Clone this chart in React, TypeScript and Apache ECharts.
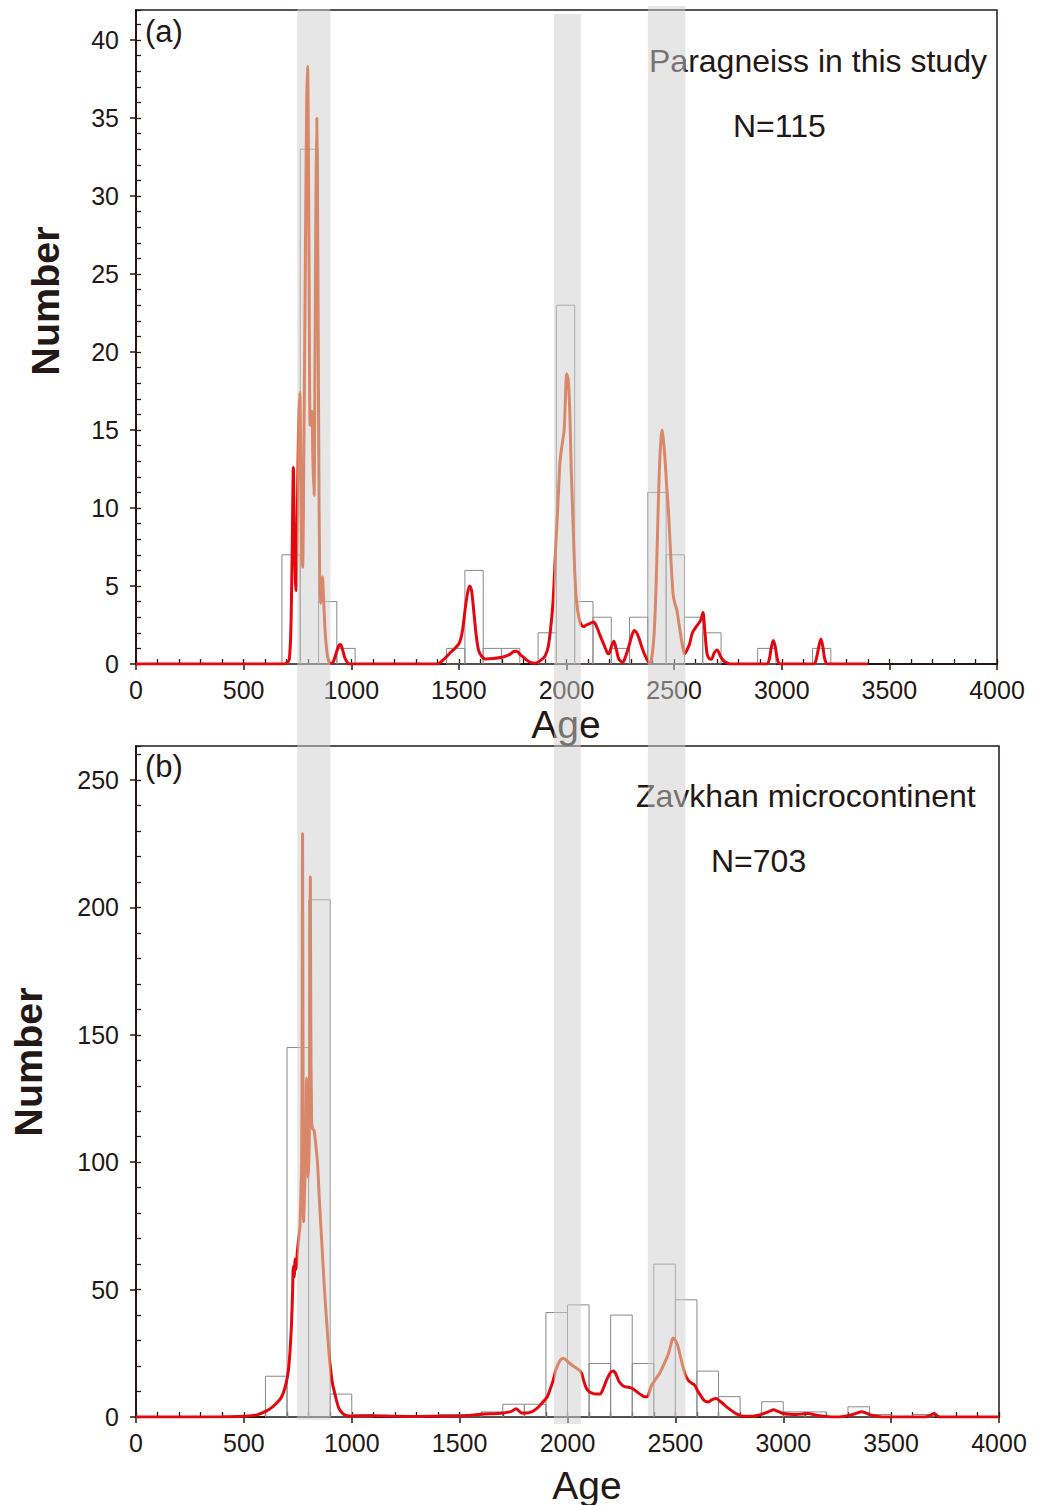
import React, { useEffect, useRef } from 'react';
import * as echarts from 'echarts';

// ---------------- data ----------------
const ageTicks = [0, 500, 1000, 1500, 2000, 2500, 3000, 3500, 4000];

// Panel (a): histogram (bin start ages, width 85 Ma) and counts
const histAStart = [678, 763, 848, 933, 1443, 1528, 1613, 1698, 1868, 1953, 2038, 2123, 2208, 2293, 2378, 2463, 2548, 2633, 2888, 3143];
const histACount = [7, 33, 4, 1, 1, 6, 1, 1, 2, 23, 4, 3, 1, 3, 11, 7, 3, 2, 1, 1];
const histAWidth = 85;

// Panel (b): histogram (bin start ages, width 100 Ma) and counts
const histBStart = [600, 700, 800, 900, 1000, 1400, 1500, 1600, 1700, 1800, 1900, 2000, 2100, 2200, 2300, 2400, 2500, 2600, 2700, 2900, 3000, 3100, 3300, 3400, 3600];
const histBCount = [16, 145, 203, 9, 1, 1, 1, 2, 5, 5, 41, 44, 21, 40, 21, 60, 46, 18, 8, 6, 2, 2, 4, 1, 1];
const histBWidth = 100;

// Probability density curve, panel (a): [age, value]
const curveA: [number, number][] = [
  [0, 0], [690, 0], [712, 0.3], [722, 4], [728, 10], [731, 12.6], [735, 9], [740, 5.5], [743, 4.7], [748, 8],
  [755, 15], [761, 17.4], [766, 12], [770, 7], [774, 6.2], [780, 14], [788, 28], [793, 36], [797, 38.3], [801, 33],
  [805, 22], [809, 15.3], [813, 15.8], [817, 16.2], [822, 13], [827, 10.8], [831, 18], [836, 30], [840, 35], [844, 28],
  [849, 14], [853, 6], [857, 3.9], [862, 5], [866, 5.6], [872, 4], [880, 1.8], [890, 0.5], [900, 0.05], [915, 0.1],
  [930, 0.7], [943, 1.2], [950, 1.25], [958, 1.0], [970, 0.4], [985, 0.05], [1000, 0], [1400, 0], [1430, 0.3], [1462, 0.75],
  [1500, 1.3], [1515, 2], [1530, 3.6], [1541, 4.6], [1551, 5.0], [1560, 4.6], [1569, 3.4], [1580, 1.9], [1592, 0.86], [1608, 0.45],
  [1623, 0.32], [1660, 0.35], [1700, 0.43], [1735, 0.6], [1755, 0.8], [1769, 0.82], [1785, 0.6], [1800, 0.43], [1831, 0.1], [1855, 0.05],
  [1877, 0.2], [1900, 0.5], [1915, 1.1], [1928, 2.5], [1938, 4.1], [1950, 7.5], [1961, 10.5], [1970, 13], [1977, 13.8], [1989, 15],
  [1995, 17], [2001, 18.6], [2008, 18.2], [2015, 16.3], [2022, 12.5], [2031, 8.8], [2038, 6], [2046, 4.1], [2057, 3], [2069, 2.5],
  [2080, 2.4], [2092, 2.5], [2110, 2.6], [2126, 2.7], [2140, 2.4], [2154, 1.9], [2175, 1.2], [2190, 0.7], [2197, 0.65], [2208, 1.1],
  [2220, 1.46], [2232, 0.9], [2243, 0.32], [2261, 0.1], [2275, 0.5], [2289, 1.1], [2303, 1.8], [2315, 2.15], [2326, 2.0], [2338, 1.6],
  [2352, 1.0], [2369, 0.43], [2385, 0.1], [2392, 0.15], [2400, 0.8], [2407, 1.9], [2415, 4.5], [2423, 8.4], [2428, 11], [2434, 13.3],
  [2440, 14.6], [2444, 15.0], [2450, 14.4], [2457, 13.3], [2465, 11.5], [2474, 9.7], [2484, 7], [2495, 4.5], [2503, 3.9], [2512, 3.5],
  [2520, 2.8], [2530, 1.9], [2540, 1.1], [2549, 0.65], [2560, 0.9], [2572, 1.3], [2585, 2], [2603, 2.4], [2623, 2.8], [2634, 3.3],
  [2642, 2.2], [2653, 0.65], [2663, 0.35], [2673, 0.3], [2686, 0.7], [2700, 0.9], [2715, 0.5], [2730, 0.2], [2742, 0.1], [2760, 0],
  [2930, 0], [2942, 0.3], [2952, 1.1], [2961, 1.5], [2970, 1.1], [2980, 0.3], [2992, 0], [3148, 0], [3160, 0.3], [3172, 1.1],
  [3182, 1.6], [3191, 1.1], [3200, 0.3], [3213, 0], [3400, 0]
];

// Probability density curve, panel (b): [age, value]
const curveB: [number, number][] = [
  [0, 0], [400, 0.1], [500, 0.3], [559, 0.8], [605, 2.4], [630, 3.8], [652, 5.5], [670, 7.2], [683, 9.5], [695, 13],
  [706, 18], [714, 26], [721, 37], [726, 50], [729, 59], [733, 55], [738, 62], [742, 58], [748, 65], [754, 70],
  [760, 75], [765, 90], [768, 100], [770, 150], [772, 229], [774, 150], [777, 76.6], [781, 88], [785, 100], [789, 120],
  [791, 133], [793, 125], [795, 100], [797, 94], [800, 98], [803, 108], [806, 160], [808, 212], [810, 160], [814, 116],
  [819, 113], [825, 112.6], [832, 108], [841, 100], [850, 85], [861, 68.7], [872, 52], [884, 37], [892, 28], [899, 21],
  [910, 13.5], [923, 8.7], [940, 3.5], [961, 1.1], [980, 0.5], [1000, 0.3], [1100, 0.5], [1200, 0.3], [1300, 0.2], [1400, 0.3],
  [1502, 0.4], [1602, 1.05], [1702, 1.6], [1740, 2.2], [1761, 3.2], [1775, 2.4], [1787, 1.6], [1810, 1.6], [1833, 2], [1860, 3.5],
  [1880, 5.3], [1906, 7.9], [1920, 11], [1934, 14.5], [1946, 18.5], [1958, 21], [1970, 22.7], [1980, 23.1], [1995, 22.2], [2011, 21],
  [2026, 20], [2042, 19.1], [2055, 18.3], [2065, 17.2], [2076, 14], [2088, 11.2], [2100, 10], [2111, 9.5], [2130, 9.0], [2150, 9.0],
  [2165, 11], [2181, 14.5], [2200, 17.5], [2214, 18.1], [2226, 16.5], [2239, 13.9], [2252, 12.6], [2265, 11.9], [2283, 11.7], [2301, 11.2],
  [2320, 10], [2343, 8.6], [2358, 7.9], [2370, 7.9], [2380, 10], [2389, 12.3], [2408, 14.8], [2427, 17.2], [2446, 20.5], [2466, 24.4],
  [2478, 28], [2489, 31], [2500, 30], [2512, 27.7], [2524, 23.5], [2535, 19.8], [2547, 16.5], [2559, 14.5], [2575, 13.3], [2589, 12.5],
  [2602, 10.5], [2616, 8.6], [2633, 6.5], [2651, 5.9], [2670, 6.8], [2690, 7.3], [2705, 6.3], [2720, 5.3], [2740, 3.8], [2759, 2.6],
  [2780, 1.4], [2805, 0.4], [2830, 0.3], [2859, 0.3], [2890, 0.8], [2921, 1.7], [2940, 2.4], [2955, 2.8], [2975, 2.2], [3000, 1.4],
  [3030, 1.1], [3062, 1.0], [3090, 1.2], [3116, 1.4], [3135, 1.1], [3154, 0.7], [3200, 0.2], [3239, 0], [3280, 0.2], [3309, 0.7],
  [3340, 1.5], [3363, 2.1], [3385, 1.5], [3409, 0.7], [3440, 0.2], [3478, 0], [3640, 0], [3663, 0.1], [3685, 0.8], [3699, 1.4],
  [3712, 0.6], [3725, 0], [4000, 0]
];

// Highlighted age bands (Ma)
const bandAges: [number, number][] = [[749, 903], [1942, 2067], [2378, 2552]];

const titleA = 'Paragneiss in this study';
const nA = 'N=115';
const titleB = 'Zavkhan microcontinent';
const nB = 'N=703';

// ---------------- styling ----------------
const FONT = "'Liberation Sans', Arial, Helvetica, sans-serif";
const INK = '#231815';
const RED = '#e3070f';
const IN_BAND = '#e54105';
const BAND_FILL = 'rgba(205,205,205,0.5)';
const BAND_Y: [number, number][] = [[9, 1420], [14, 1424], [6, 1416]];

function histData(starts: number[], counts: number[], w: number) {
  return starts.map((s, i) => [s, s + w, counts[i]]);
}

function renderBin(params: any, api: any) {
  const p0 = api.coord([api.value(0), api.value(2)]);
  const p1 = api.coord([api.value(1), 0]);
  return {
    type: 'rect',
    shape: { x: p0[0], y: p0[1], width: p1[0] - p0[0], height: p1[1] - p0[1] },
    style: { fill: 'none', stroke: '#8a8a8a', lineWidth: 1 },
  };
}

function xAxes(gridIndex: number) {
  return [
    {
      gridIndex, type: 'value', min: 0, max: 4000, interval: 500, position: 'bottom',
      axisLine: { show: true, onZero: false, lineStyle: { color: INK, width: 2 } },
      axisTick: { show: true, inside: false, length: 6, lineStyle: { color: INK, width: 1.5 } },
      axisLabel: { show: true, fontSize: 25, color: INK, fontFamily: FONT, margin: 13,
        formatter: (v: number) => (ageTicks.includes(v) ? String(v) : '') },
      splitLine: { show: false },
    },
    {
      gridIndex, type: 'value', min: 0, max: 4000, interval: 100, position: 'bottom',
      axisLine: { show: false, onZero: false },
      axisTick: { show: true, inside: true, length: 5, lineStyle: { color: INK, width: 1.3 } },
      axisLabel: { show: false },
      splitLine: { show: false },
    },
  ];
}

function yAxes(gridIndex: number, max: number, major: number, minor: number) {
  return [
    {
      gridIndex, type: 'value', min: 0, max, interval: major, position: 'left',
      axisLine: { show: true, onZero: false, lineStyle: { color: INK, width: 2 } },
      axisTick: { show: true, inside: false, length: 6, lineStyle: { color: INK, width: 1.5 } },
      axisLabel: { show: true, fontSize: 25, color: INK, fontFamily: FONT, margin: 17, showMaxLabel: false },
      splitLine: { show: false },
    },
    {
      gridIndex, type: 'value', min: 0, max, interval: minor, position: 'left',
      axisLine: { show: false, onZero: false },
      axisTick: { show: true, inside: true, length: 5, lineStyle: { color: INK, width: 1.3 } },
      axisLabel: { show: false },
      splitLine: { show: false },
    },
  ];
}

const bandPieces: any[] = [];
{
  let prev = -Infinity;
  bandAges.forEach(([a, b]) => {
    bandPieces.push({ gte: prev, lt: a, color: RED });
    bandPieces.push({ gte: a, lt: b, color: IN_BAND });
    prev = b;
  });
  bandPieces.push({ gte: prev, color: RED });
  bandPieces[0] = { lt: bandAges[0][0], color: RED };
}

const option: any = {
  animation: false,
  backgroundColor: '#ffffff',
  grid: [
    { left: 136, top: 10, width: 861, height: 654, show: true, borderColor: INK, borderWidth: 1.5, backgroundColor: 'transparent' },
    { left: 136, top: 746, width: 863, height: 671, show: true, borderColor: INK, borderWidth: 1.5, backgroundColor: 'transparent' },
  ],
  xAxis: [...xAxes(0), ...xAxes(1)],
  yAxis: [...yAxes(0, 654 / 15.6, 5, 1), ...yAxes(1, 671 / 2.548, 50, 10)],
  visualMap: [
    { type: 'piecewise', show: false, dimension: 0, seriesIndex: [2, 3], pieces: bandPieces },
  ],
  series: [
    { type: 'custom', xAxisIndex: 0, yAxisIndex: 0, renderItem: renderBin, encode: { x: [0, 1], y: 2 },
      data: histData(histAStart, histACount, histAWidth), z: 2, silent: true },
    { type: 'custom', xAxisIndex: 2, yAxisIndex: 2, renderItem: renderBin, encode: { x: [0, 1], y: 2 },
      data: histData(histBStart, histBCount, histBWidth), z: 2, silent: true },
    { type: 'line', xAxisIndex: 0, yAxisIndex: 0, data: curveA, showSymbol: false, smooth: 0.3,
      lineStyle: { width: 3 }, z: 3, silent: true },
    { type: 'line', xAxisIndex: 2, yAxisIndex: 2, data: curveB, showSymbol: false, smooth: 0.3,
      lineStyle: { width: 3 }, z: 3, silent: true },
  ],
};

function txt(id: string, text: string, x: number, y: number, size: number, opts: any = {}) {
  return {
    id, type: 'text', x, y, rotation: opts.rotation || 0, z: 10, silent: true,
    style: {
      text, fill: INK, fontSize: size, fontFamily: FONT, fontWeight: opts.bold ? 'bold' : 'normal',
      textAlign: opts.align || 'left', verticalAlign: 'middle',
    },
  };
}

export default function App() {
  const ref = useRef<HTMLDivElement>(null);
  useEffect(() => {
    const chart = echarts.init(ref.current as HTMLDivElement, null, { renderer: 'svg' });
    chart.setOption(option);
    const bands = bandAges.map(([a, b], i) => {
      const x0 = chart.convertToPixel({ xAxisIndex: 0 }, a) as number;
      const x1 = chart.convertToPixel({ xAxisIndex: 0 }, b) as number;
      return {
        id: 'band' + i, type: 'rect', z: 100, silent: true,
        shape: { x: x0, y: BAND_Y[i][0], width: x1 - x0, height: BAND_Y[i][1] - BAND_Y[i][0] },
        style: { fill: BAND_FILL },
      };
    });
    const texts = [
      txt('numA', 'Number', 45, 301, 39.5, { bold: true, align: 'center', rotation: Math.PI / 2 }),
      txt('numB', 'Number', 28, 1062, 39.5, { bold: true, align: 'center', rotation: Math.PI / 2 }),
      txt('ageA', 'Age', 566, 724, 39, { align: 'center' }),
      txt('ageB', 'Age', 587, 1485, 39, { align: 'center' }),
      txt('labA', '(a)', 145, 31, 31),
      txt('labB', '(b)', 145, 766, 31),
      txt('titA', titleA, 649, 61, 32),
      txt('nA', nA, 733, 126, 32),
      txt('titB', titleB, 636, 796, 32),
      txt('nB', nB, 711, 861, 32),
    ];
    chart.setOption({ graphic: [...texts, ...bands] });
    return () => chart.dispose();
  }, []);
  return (
    <div
      ref={ref}
      style={{ position: 'absolute', left: 0, top: 0, width: 1051, height: 1505, background: '#ffffff' }}
    />
  );
}
